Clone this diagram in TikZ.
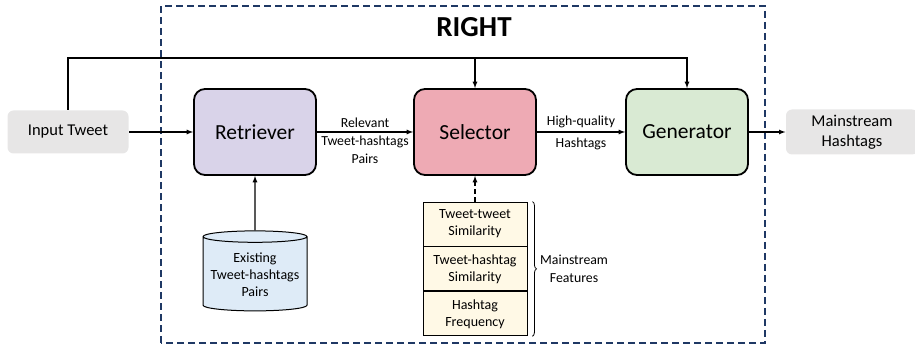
\documentclass[tikz,border=0pt]{standalone}
\usepackage{fontspec}
\setmainfont{Carlito}
\usepackage{tikz}
\tikzset{>=latex}
\usetikzlibrary{arrows,positioning,shapes.geometric,decorations.pathreplacing}
\definecolor{iogray}{HTML}{E7E6E6}
\definecolor{retpurple}{HTML}{D9D3E9}
\definecolor{selpink}{HTML}{EEAAB4}
\definecolor{gengreen}{HTML}{D9EAD3}
\definecolor{dbblue}{HTML}{DEEBF7}
\definecolor{featyellow}{HTML}{FFF9E6}
\definecolor{boxblue}{HTML}{1F3864}

\begin{document}
\begin{tikzpicture}[x=1pt,y=1pt,line width=1.2pt,
  module/.style={draw,fill=#1,line width=1.8pt,rounded corners=11pt,minimum width=122pt,minimum height=86pt,font=\fontsize{21.5}{25}\selectfont},
  io/.style={fill=iogray,rounded corners=6pt,minimum width=121pt,minimum height=43pt,align=center,font=\fontsize{16.5}{19.5}\selectfont},
  feat/.style={draw,line width=0.9pt,fill=featyellow,minimum width=104pt,minimum height=44pt,align=center,inner sep=0pt,font=\fontsize{14}{17}\selectfont},
  lbl/.style={align=center,font=\fontsize{13.8}{17.5}\selectfont}]
                \useasboundingbox (0,0) rectangle (915,345);
                \draw[boxblue,line width=1.3pt,dash pattern=on 7pt off 4pt] (161,2) rectangle (765,339);
                \node[font=\bfseries\fontsize{29}{34}\selectfont] (title) at (474,318) {RIGHT};

                \node[io] (input) at (68,213) {Input Tweet};
                \node[module=retpurple] (ret) at (255,213) {Retriever};
                \node[module=selpink] (sel) at (475,213) {Selector};
                \node[module=gengreen] (gen) at (687,213) {Generator};
                \node[io,minimum width=132pt,minimum height=45pt] (out) at (852,213) {Mainstream\\Hashtags};

                \node[cylinder,shape border rotate=90,draw,line width=1pt,fill=dbblue,aspect=0.12,minimum width=104pt,minimum height=80pt,align=center,font=\fontsize{14}{17}\selectfont] (db) at (255,70) {Existing\\Tweet-hashtags\\Pairs};

                \node[feat] (sim1) at (475,121) {Tweet-tweet\\Similarity};
                \node[feat,below=0pt of sim1] (sim2) {Tweet-hashtag\\Similarity};
                \node[feat,below=0pt of sim2] (freq) {Hashtag\\Frequency};

                \coordinate (topline) at (0,287);
                \draw[->] (input.north) |- (topline -| gen.north) -- (gen.north);
                \draw[->] (topline -| sel.north) -- (sel.north);
                \draw[->] (input) -- (ret);
                \draw[->] (ret) -- node[lbl,above] {Relevant} node[lbl,below] {Tweet-hashtags\\Pairs} (sel);
                \draw[->] (sel) -- node[lbl,above] {High-quality} node[lbl,below=2pt] {Hashtags} (gen);
                \draw[->] (gen) -- (out);
                \draw[->] (db) -- (ret);
                \draw[->,dash pattern=on 5pt off 3pt] (sim1) -- (sel);

                \draw[line width=0.8pt,decorate,decoration={brace,amplitude=4pt}] ([xshift=5pt]sim1.north east) -- ([xshift=5pt]freq.south east) node[midway,right=4pt,lbl] (mfeat) {Mainstream\\Features};
\end{tikzpicture}
\end{document}
